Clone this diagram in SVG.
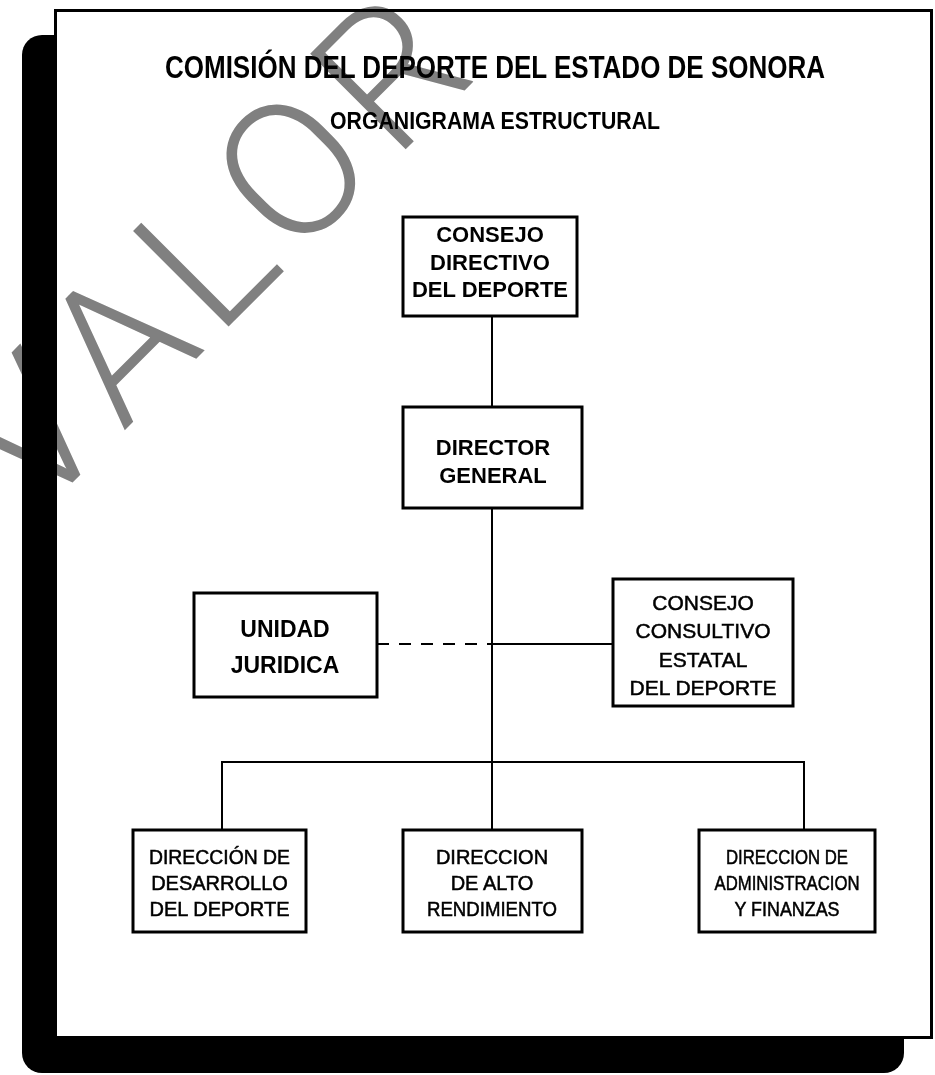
<svg xmlns="http://www.w3.org/2000/svg" width="935" height="1075" viewBox="0 0 935 1075">
<style>
.box{fill:#fff;stroke:#000;stroke-width:3}
.ln{stroke:#000;stroke-width:2;fill:none}
.t{font-family:"Liberation Sans",Arial,sans-serif;fill:#000;text-anchor:middle}
.b{font-weight:bold}
.n{stroke:#000;stroke-width:0.5}
.wm{font-family:Roboto,"Liberation Sans",sans-serif;font-weight:300;fill:#808080;text-anchor:middle;font-size:190px}
</style>
<rect x="0" y="0" width="935" height="1075" fill="#fff"/>
<g id="frame">
<rect x="22" y="35" width="882" height="1038" rx="20" ry="20" fill="#000"/>
<rect x="55.5" y="10.5" width="876" height="1027" fill="#fff"/>
</g>
<g id="watermark" style="mix-blend-mode:multiply">
<text class="wm" x="257" y="298" transform="rotate(-45 257 298)" textLength="628" lengthAdjust="spacing">VALOR</text>
</g>
<rect x="55.5" y="10.5" width="876" height="1027" fill="none" stroke="#000" stroke-width="3"/>
<g id="title">
<text class="t b" x="495" y="78" font-size="31" textLength="660" lengthAdjust="spacingAndGlyphs">COMISIÓN DEL DEPORTE DEL ESTADO DE SONORA</text>
<text class="t b" x="495" y="129" font-size="24" textLength="330" lengthAdjust="spacingAndGlyphs">ORGANIGRAMA ESTRUCTURAL</text>
</g>
<g id="connectors">
<line class="ln" x1="492" y1="316" x2="492" y2="407"/>
<line class="ln" x1="492" y1="508" x2="492" y2="830"/>
<line class="ln" x1="377" y1="644" x2="492" y2="644" stroke-dasharray="12 10"/>
<line class="ln" x1="492" y1="644" x2="613" y2="644"/>
<polyline class="ln" points="222,830 222,762 804,762 804,830"/>
</g>
<g id="consejo-directivo">
<rect class="box" x="403" y="217" width="174" height="99"/>
<text class="t b" x="490" y="242" font-size="22">CONSEJO</text>
<text class="t b" x="490" y="270" font-size="22">DIRECTIVO</text>
<text class="t b" x="490" y="297" font-size="22">DEL DEPORTE</text>
</g>
<g id="director-general">
<rect class="box" x="403" y="407" width="179" height="101"/>
<text class="t b" x="493" y="455" font-size="22">DIRECTOR</text>
<text class="t b" x="493" y="483" font-size="22">GENERAL</text>
</g>
<g id="unidad-juridica">
<rect class="box" x="194" y="593" width="183" height="104"/>
<text class="t b" x="285" y="637" font-size="23">UNIDAD</text>
<text class="t b" x="285" y="673" font-size="23">JURIDICA</text>
</g>
<g id="consejo-consultivo">
<rect class="box" x="613" y="579" width="180" height="127"/>
<text class="t n" x="703" y="610" font-size="21">CONSEJO</text>
<text class="t n" x="703" y="638" font-size="21">CONSULTIVO</text>
<text class="t n" x="703" y="667" font-size="21">ESTATAL</text>
<text class="t n" x="703" y="695" font-size="21">DEL DEPORTE</text>
</g>
<g id="direccion-desarrollo">
<rect class="box" x="133" y="830" width="173" height="102"/>
<text class="t n" x="219.5" y="864" font-size="20" textLength="141" lengthAdjust="spacingAndGlyphs">DIRECCIÓN DE</text>
<text class="t n" x="219.5" y="890" font-size="20">DESARROLLO</text>
<text class="t n" x="219.5" y="916" font-size="20">DEL DEPORTE</text>
</g>
<g id="direccion-alto-rendimiento">
<rect class="box" x="403" y="830" width="179" height="102"/>
<text class="t n" x="492" y="864" font-size="20">DIRECCION</text>
<text class="t n" x="492" y="890" font-size="20">DE ALTO</text>
<text class="t n" x="492" y="916" font-size="20" textLength="130" lengthAdjust="spacingAndGlyphs">RENDIMIENTO</text>
</g>
<g id="direccion-administracion">
<rect class="box" x="699" y="830" width="176" height="102"/>
<text class="t n" x="787" y="864" font-size="20" textLength="122" lengthAdjust="spacingAndGlyphs">DIRECCION DE</text>
<text class="t n" x="787" y="890" font-size="20" textLength="145" lengthAdjust="spacingAndGlyphs">ADMINISTRACION</text>
<text class="t n" x="787" y="916" font-size="20" textLength="105" lengthAdjust="spacingAndGlyphs">Y FINANZAS</text>
</g>
</svg>
